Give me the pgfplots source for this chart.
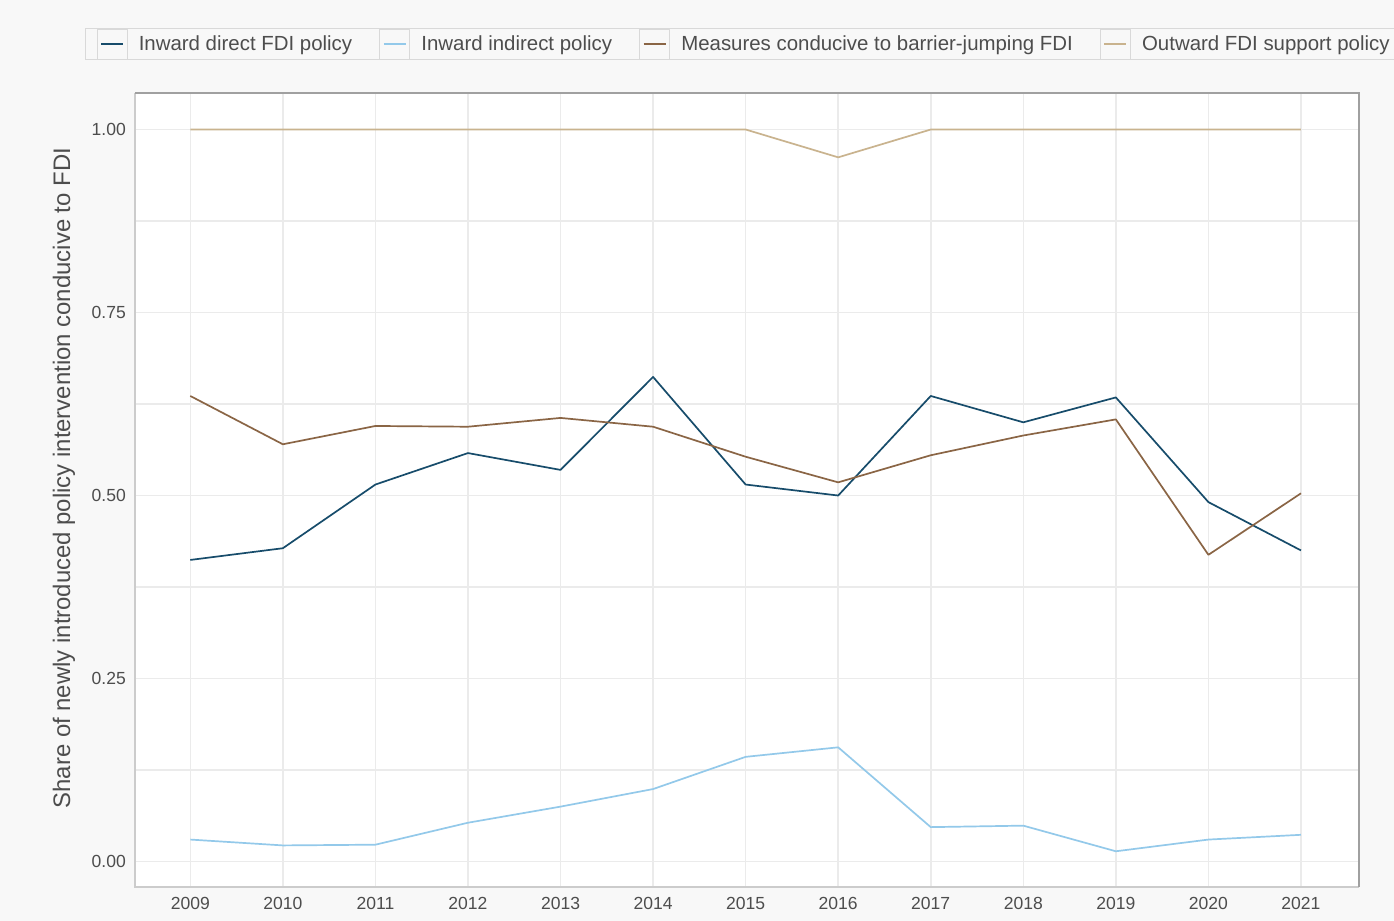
\documentclass[border=0pt]{standalone}
\usepackage{fontspec}
\setmainfont{Liberation Sans}
\usepackage{pgfplots}
\pgfplotsset{compat=1.18}
\definecolor{bg}{HTML}{F8F8F8}
\definecolor{gridc}{HTML}{EBEBEB}
\definecolor{tickc}{HTML}{4D4D4D}
\definecolor{legc}{HTML}{D9D9D9}
\definecolor{bordlight}{HTML}{CCCCCC}
\definecolor{borddark}{HTML}{A0A0A0}
\definecolor{cdirect}{HTML}{174C6B}
\definecolor{cindirect}{HTML}{93C9EA}
\definecolor{cmeasure}{HTML}{8A6545}
\definecolor{coutward}{HTML}{C9B38E}
\begin{document}
\begin{tikzpicture}
\path[use as bounding box, fill=bg] (-135bp,-34bp) rectangle (1259bp,887bp);
\begin{axis}[
  at={(0,0)}, anchor=south west,
  scale only axis, width=1224bp, height=794bp,
  xmin=2008.4025, xmax=2021.627, ymin=-0.0348, ymax=1.0499,
  axis background/.style={fill=white},
  axis line style={draw=none},
  xtick={2009,2010,2011,2012,2013,2014,2015,2016,2017,2018,2019,2020,2021},
  xticklabels={2009,2010,2011,2012,2013,2014,2015,2016,2017,2018,2019,2020,2021},
  ytick={0,0.25,0.5,0.75,1},
  yticklabels={0.00,0.25,0.50,0.75,1.00},
  minor ytick={0.125,0.375,0.625,0.875},
  grid=both,
  major grid style={draw=gridc, line width=1.5bp},
  minor grid style={draw=gridc, line width=1.5bp},
  major tick length=0pt, minor tick length=0pt,
  tick label style={font=\fontsize{17.6}{20}\selectfont, text=tickc},
  yticklabel style={anchor=east, inner sep=0pt, xshift=-9bp},
  xticklabel style={anchor=north, inner sep=0pt, yshift=-10bp},
  ylabel={Share of newly introduced policy intervention conducive to FDI},
  ylabel style={at={(axis description cs:-0.058,0.515)}, anchor=center, rotate=0, font=\fontsize{24}{28}\selectfont, text=tickc},
  legend columns=4,
  legend cell align=left,
  legend style={at={(0,1)}, anchor=north west, xshift=-50bp, yshift=65bp,
    draw=legc, line width=1.2bp, fill=bg, inner xsep=11bp, inner ysep=0pt,
    font=\fontsize{20.5}{24}\selectfont, text=tickc,
    nodes={inner sep=0pt},
    /tikz/every odd column/.append style={column sep=11bp},
    /tikz/every even column/.append style={column sep=27bp}},
  legend image code/.code={
    \draw[draw=legc, fill=bg, line width=1.2bp, solid] (0bp,-15bp) rectangle (30bp,15bp);
    \draw[#1, line width=1.6bp] (4bp,0bp) -- (26bp,0bp);
  },
  every axis plot/.append style={line width=1.7bp, line join=round},
]
\addplot[cdirect] coordinates {
(2009,0.412) (2010,0.428) (2011,0.515) (2012,0.558) (2013,0.535) (2014,0.662) (2015,0.515)
(2016,0.500) (2017,0.636) (2018,0.600) (2019,0.634) (2020,0.491) (2021,0.425)};
\addlegendentry{Inward direct FDI policy}
\addplot[cindirect] coordinates {
(2009,0.030) (2010,0.022) (2011,0.023) (2012,0.053) (2013,0.075) (2014,0.099) (2015,0.143)
(2016,0.156) (2017,0.047) (2018,0.049) (2019,0.014) (2020,0.030) (2021,0.0365)};
\addlegendentry{Inward indirect policy}
\addplot[cmeasure] coordinates {
(2009,0.636) (2010,0.570) (2011,0.595) (2012,0.594) (2013,0.606) (2014,0.594) (2015,0.553)
(2016,0.518) (2017,0.555) (2018,0.582) (2019,0.604) (2020,0.419) (2021,0.503)};
\addlegendentry{Measures conducive to barrier-jumping FDI}
\addplot[coutward] coordinates {
(2009,1) (2010,1) (2011,1) (2012,1) (2013,1) (2014,1) (2015,1)
(2016,0.962) (2017,1) (2018,1) (2019,1) (2020,1) (2021,1)};
\addlegendentry{Outward FDI support policy}
\end{axis}
\draw[draw=bordlight, line width=1.5bp] (0bp,794bp) -- (0bp,0bp) -- (1224bp,0bp);
\draw[draw=borddark, line width=2bp] (0bp,794bp) -- (1224bp,794bp) -- (1224bp,0bp);
\end{tikzpicture}
\end{document}
